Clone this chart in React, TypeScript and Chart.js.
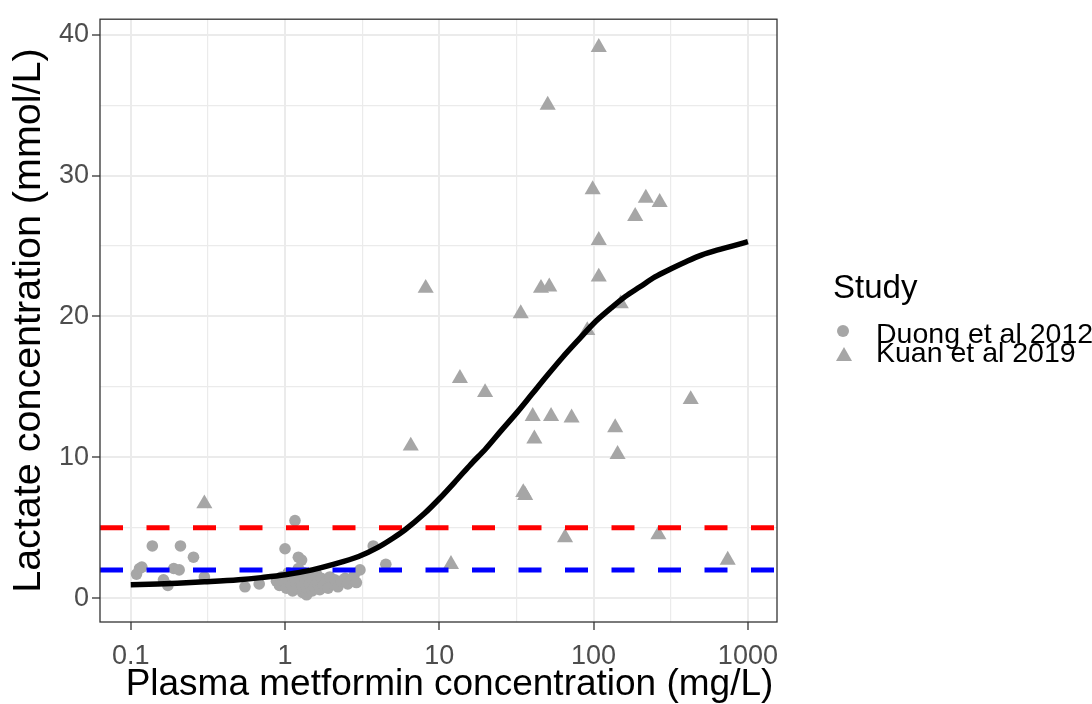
import React, { useEffect, useRef } from "react";
import { Chart, registerables } from "chart.js";

Chart.register(...registerables);

// ---- Data ----
const duongX = [
  0.109, 0.114, 0.118, 0.138, 0.163, 0.174, 0.19, 0.206, 0.21, 0.255, 0.3, 0.55, 0.68,
  1.0, 1.16, 1.22, 1.28, 3.06, 3.73, 4.5,
  0.88, 0.92, 0.95, 1.0, 1.02, 1.05, 1.08, 1.1, 1.12, 1.15, 1.18, 1.2, 1.22, 1.25,
  1.28, 1.3, 1.32, 1.35, 1.38, 1.4, 1.42, 1.45, 1.5, 1.52, 1.55, 1.6, 1.62, 1.68,
  1.72, 1.78, 1.85, 1.9, 1.95, 2.05, 2.1, 2.2, 2.3, 2.45, 2.55, 2.7, 2.8, 2.9,
];
const duongY = [
  1.7, 2.1, 2.2, 3.7, 1.3, 0.9, 2.1, 2.0, 3.7, 2.9, 1.5, 0.8, 1.0,
  3.5, 5.5, 2.9, 2.7, 2.0, 3.7, 2.4,
  1.2, 0.9, 1.5, 1.1, 0.7, 1.8, 1.3, 0.9, 0.5, 1.6, 1.1, 0.7, 2.1, 1.4,
  0.9, 0.4, 1.8, 1.2, 0.23, 0.7, 1.5, 1.0, 0.5, 1.3, 0.8, 1.7, 1.1, 0.6,
  1.4, 0.9, 1.2, 0.7, 1.5, 1.0, 1.3, 0.8, 1.2, 1.4, 1.0, 1.3, 1.6, 1.1,
];

const kuanX = [
  0.3, 6.53, 8.16, 11.9, 13.6, 19.8, 33.7, 35.0, 36.0, 40.3, 41.3, 45.6, 50.4, 51.6,
  53, 65.3, 72, 91, 98.6, 108, 108, 108, 138, 143, 150, 186, 218, 263, 268, 426, 740,
];
const kuanY = [
  6.7, 10.8, 22.0, 2.4, 15.6, 14.6, 20.2, 7.5, 7.3, 12.9, 11.3, 22.0, 35.0, 22.1,
  12.9, 4.3, 12.8, 19.0, 29.0, 39.1, 25.4, 22.8, 12.1, 10.2, 20.9, 27.1, 28.4, 4.5, 28.1, 14.1, 2.7,
];

const curveX = [
  0.1, 0.15, 0.2, 0.3, 0.5, 0.7, 1, 1.5, 2, 3, 4, 5, 6, 8, 10, 13, 16, 20, 25, 32, 40, 50,
  63, 80, 100, 130, 160, 200, 250, 320, 400, 500, 630, 800, 1000,
];
const curveY = [
  0.95, 1.0, 1.05, 1.15, 1.3, 1.45, 1.65, 2.0, 2.35, 2.95, 3.6, 4.25, 4.85, 6.0, 7.05, 8.4, 9.5,
  10.6, 11.85, 13.2, 14.5, 15.8, 17.1, 18.35, 19.5, 20.6, 21.4, 22.1, 22.8, 23.4, 23.9, 24.35,
  24.7, 25.0, 25.3,
];

const thresholdRed = 5;
const thresholdBlue = 2;

const xMajorTicks = [0.1, 1, 10, 100, 1000];
const xMinorTicks = [0.316, 3.16, 31.6, 316];
const yMajorTicks = [0, 10, 20, 30, 40];
const yMinorTicks = [5, 15, 25, 35];

const xTitle = "Plasma metformin concentration (mg/L)";
const yTitle = "Lactate concentration (mmol/L)";

const X_MIN = 0.0632;
const X_MAX = 1544;
const Y_MIN = -1.7;
const Y_MAX = 41.1;

const FONT = '"Liberation Sans", Arial, Helvetica, sans-serif';
const GREY = "#A6A6A6";

const panelBorder = {
  id: "panelBorder",
  afterDatasetsDraw(chart: any) {
    const { ctx, chartArea } = chart;
    ctx.save();
    ctx.strokeStyle = "#333333";
    ctx.lineWidth = 1.3;
    ctx.strokeRect(chartArea.left, chartArea.top, chartArea.right - chartArea.left, chartArea.bottom - chartArea.top);
    ctx.restore();
  },
  afterDraw(chart: any) {
    const { ctx, chartArea } = chart;
    ctx.save();
    ctx.fillStyle = "#000000";
    ctx.font = "37px " + FONT;
    ctx.textAlign = "center";
    ctx.textBaseline = "middle";
    ctx.fillText(xTitle, (chartArea.left + chartArea.right) / 2 + 11, 685);
    ctx.restore();
  },
};

export default function App() {
  const ref = useRef<HTMLCanvasElement>(null);

  useEffect(() => {
    const xMajorSet = new Set(xMajorTicks);
    const yMajorSet = new Set(yMajorTicks);
    const allX = [...xMajorTicks, ...xMinorTicks].sort((a, b) => a - b);
    const allY = [...yMajorTicks, ...yMinorTicks].sort((a, b) => a - b);

    const chart = new Chart(ref.current as HTMLCanvasElement, {
      type: "scatter",
      data: {
        datasets: [
          {
            label: "fit",
            data: curveX.map((x, i) => ({ x, y: curveY[i] })),
            showLine: true,
            borderColor: "#000000",
            borderWidth: 5.5,
            pointRadius: 0,
            cubicInterpolationMode: "monotone",
            borderCapStyle: "butt",
            borderJoinStyle: "round",
            fill: false,
          },
          {
            label: "red",
            data: [
              { x: X_MIN, y: thresholdRed },
              { x: X_MAX, y: thresholdRed },
            ],
            showLine: true,
            borderColor: "#FF0000",
            borderWidth: 5,
            borderDash: [23, 23.5],
            pointRadius: 0,
          },
          {
            label: "blue",
            data: [
              { x: X_MIN, y: thresholdBlue },
              { x: X_MAX, y: thresholdBlue },
            ],
            showLine: true,
            borderColor: "#0000FF",
            borderWidth: 5,
            borderDash: [23, 23.5],
            pointRadius: 0,
          },
          {
            label: "Kuan et al 2019",
            data: kuanX.map((x, i) => ({ x, y: kuanY[i] })),
            pointStyle: "triangle",
            pointRadius: 9.3,
            pointBackgroundColor: GREY,
            pointBorderColor: GREY,
            pointBorderWidth: 0,
          },
          {
            label: "Duong et al 2012",
            data: duongX.map((x, i) => ({ x, y: duongY[i] })),
            pointStyle: "circle",
            pointRadius: 5.8,
            pointBackgroundColor: GREY,
            pointBorderColor: GREY,
            pointBorderWidth: 0,
          },
        ],
      },
      options: {
        responsive: false,
        animation: false,
        devicePixelRatio: 1,
        layout: { padding: { left: 0, top: 16, right: 315, bottom: 0 } },
        plugins: { legend: { display: false }, tooltip: { enabled: false } },
        scales: {
          x: {
            type: "logarithmic",
            min: X_MIN,
            max: X_MAX,
            afterBuildTicks: (scale: any) => {
              scale.ticks = allX.map((v) => ({ value: v }));
            },
            afterFit: (scale: any) => {
              scale.height = 82;
            },
            ticks: {
              autoSkip: false,
              maxRotation: 0,
              padding: 10,
              color: "#4D4D4D",
              font: { family: FONT, size: 27 },
              callback: (value: any) => {
                const v = Number(value);
                return xMajorSet.has(v) ? String(v) : "";
              },
            },
            grid: {
              color: "#EBEBEB",
              lineWidth: (ctx: any) => (ctx.tick && xMajorSet.has(ctx.tick.value) ? 2 : 1.2),
              tickColor: (ctx: any) => (ctx.tick && xMajorSet.has(ctx.tick.value) ? "#333333" : "rgba(0,0,0,0)"),
              tickLength: 8,
              tickWidth: 1.3,
            },
            border: { display: false },
            title: { display: false },
          },
          y: {
            type: "linear",
            min: Y_MIN,
            max: Y_MAX,
            afterBuildTicks: (scale: any) => {
              scale.ticks = allY.map((v) => ({ value: v }));
            },
            afterFit: (scale: any) => {
              scale.width = 100;
            },
            ticks: {
              autoSkip: false,
              padding: 3,
              color: "#4D4D4D",
              font: { family: FONT, size: 27 },
              callback: (value: any) => {
                const v = Number(value);
                return yMajorSet.has(v) ? String(v) : "";
              },
            },
            grid: {
              color: "#EBEBEB",
              lineWidth: (ctx: any) => (ctx.tick && yMajorSet.has(ctx.tick.value) ? 2 : 1.2),
              tickColor: (ctx: any) => (ctx.tick && yMajorSet.has(ctx.tick.value) ? "#333333" : "rgba(0,0,0,0)"),
              tickLength: 8,
              tickWidth: 1.3,
            },
            border: { display: false },
            title: {
              display: true,
              text: yTitle,
              color: "#000000",
              font: { family: FONT, size: 39.5, lineHeight: 1 },
              padding: { top: 9, bottom: 0 },
            },
          },
        },
      },
      plugins: [panelBorder],
    } as any);

    return () => chart.destroy();
  }, []);

  const legendText = { position: "absolute" as const, fontFamily: FONT, lineHeight: 1, whiteSpace: "nowrap" as const, color: "#000" };

  return (
    <div style={{ position: "fixed", left: 0, top: 0, width: 1092, height: 704, background: "#ffffff", overflow: "hidden" }}>
      <canvas ref={ref} width={1092} height={704} style={{ position: "absolute", left: 0, top: 0, width: 1092, height: 704 }} />
      <div style={{ ...legendText, left: 833, top: 270, fontSize: 33 }}>Study</div>
      <div style={{ position: "absolute", left: 837, top: 325, width: 12, height: 12, borderRadius: "50%", background: GREY }} />
      <div
        style={{
          position: "absolute",
          left: 836,
          top: 347,
          width: 0,
          height: 0,
          borderLeft: "8px solid transparent",
          borderRight: "8px solid transparent",
          borderBottom: "14px solid " + GREY,
        }}
      />
      <div style={{ ...legendText, left: 876, top: 319, fontSize: 28.5 }}>Duong et al 2012</div>
      <div style={{ ...legendText, left: 876, top: 337.5, fontSize: 28.5 }}>Kuan et al 2019</div>
    </div>
  );
}
